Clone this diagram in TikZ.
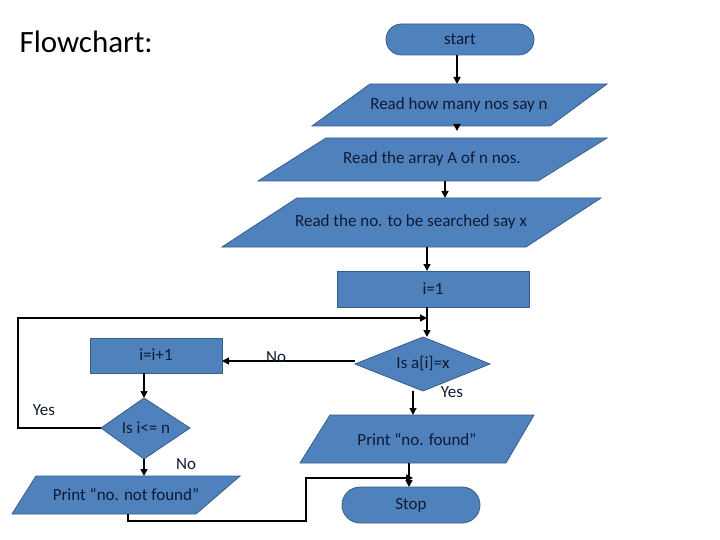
\documentclass[tikz,border=0pt]{standalone}
\usepackage{fontspec}
\setmainfont{Carlito}
\usetikzlibrary{arrows.meta}
\definecolor{fc}{HTML}{4F81BD}
\definecolor{ec}{HTML}{385D8A}
\definecolor{tc}{HTML}{0F1A33}
\begin{document}
\begin{tikzpicture}[x=1pt,y=-1pt,
  shp/.style={fill=fc,draw=ec,line width=0.8pt},
  lbl/.style={font=\fontsize{17}{20}\selectfont,text=tc},
  arr/.style={line width=1.5pt,-{Triangle[length=7pt,width=7pt]}},
  ln/.style={line width=1.5pt}]
\useasboundingbox (0,0) rectangle (720,540);
\node[anchor=west,font=\fontsize{31}{36}\selectfont] (title) at (16,42) {Flowchart:};
% start
\draw[shp,rounded corners=15.5] (386,24) rectangle (534,55);
\node[lbl] (start) at (460,39.5) {start};
\coordinate (startb) at (457,55);
% P1
\draw[shp] (370,84) -- (607,84) -- (550,126) -- (312,126) -- cycle;
\node[lbl] (p1) at (459,105) {Read how many nos say n};
\coordinate (p1t) at (457,84); \coordinate (p1b) at (457,126);
% P2
\draw[shp] (326,138) -- (607,138) -- (538,181) -- (258,181) -- cycle;
\node[lbl] (p2) at (432,159) {Read the array A of n nos.};
\coordinate (p2t) at (457,138); \coordinate (p2b) at (445,181);
% P3
\draw[shp] (297,198) -- (601,198) -- (526,247) -- (222,247) -- cycle;
\node[lbl] (p3) at (411,222) {Read the no. to be searched say x};
\coordinate (p3t) at (445,198); \coordinate (p3b) at (427,247);
% i=1
\draw[shp] (337,271) rectangle (529,307);
\node[lbl] (i1) at (433,289) {i=1};
\coordinate (i1t) at (427,271); \coordinate (i1b) at (427,307);
% diamond a[i]=x
\draw[shp] (355,364) -- (423,337) -- (490,364) -- (423,391) -- cycle;
\node[lbl] (d1) at (423,364) {Is a[i]=x};
\coordinate (d1t) at (427,337); \coordinate (d1l) at (355,361); \coordinate (d1b) at (413,391);
% i=i+1
\draw[shp] (90,338) rectangle (222,373);
\node[lbl] (inc) at (156,355) {i=i+1};
\coordinate (incr) at (222,361); \coordinate (incb) at (144,373);
% diamond i<=n
\draw[shp] (101,428) -- (144,398) -- (190,428) -- (144,459) -- cycle;
\node[lbl] (d2) at (146,428) {Is i<= n};
\coordinate (d2t) at (144,398); \coordinate (d2l) at (101,428); \coordinate (d2b) at (144,459);
% print found
\draw[shp] (330,415) -- (534,415) -- (506,463) -- (300,463) -- cycle;
\node[lbl] (pf) at (417,439) {Print “no. found”};
\coordinate (pft) at (413,415); \coordinate (pfb) at (409,463);
% print not found
\draw[shp] (36,476) -- (240,476) -- (196,514) -- (12,514) -- cycle;
\node[lbl] (pnf) at (126,494) {Print “no. not found”};
\coordinate (pnft) at (144,476); \coordinate (pnfb) at (128,514);
% stop
\draw[shp,rounded corners=18] (342,487) rectangle (480,523);
\node[lbl] (stop) at (411,505) {Stop};
\coordinate (stopt) at (409,487);
% connectors
\draw[arr] (startb) -- (p1t);
\draw[arr] (p1b) -- ++(0,5);
\draw[arr] (p2b) -- (p3t);
\draw[arr] (p3b) -- (i1t);
\draw[arr] (i1b) -- (d1t);
\draw[arr] (d1l) -- (incr);
\draw[arr] (incb) -- (d2t);
\draw[arr] (d2b) -- (pnft);
\draw[arr] (d1b) -- (pft);
\draw[arr] (pfb) -- (stopt);
\coordinate (loopend) at (427,318);
\draw[arr] (d2l) -- (18,428) -- (18,318) -- (loopend);
\coordinate (joinend) at (413,478);
\draw[arr] (pnfb) -- (128,521) -- (306,521) -- (306,478) -- (joinend);
% labels
\node[lbl] (no1) at (276,357) {No};
\node[lbl] (yes1) at (452,392) {Yes};
\node[lbl] (yes2) at (44,410) {Yes};
\node[lbl] (no2) at (186,464) {No};
\end{tikzpicture}
\end{document}
